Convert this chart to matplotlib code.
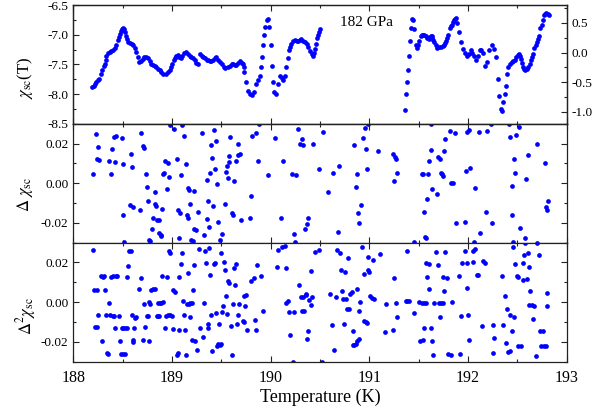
import matplotlib
matplotlib.use("Agg")
import matplotlib.pyplot as plt
from matplotlib.ticker import MultipleLocator, AutoMinorLocator, FormatStrFormatter

plt.rcParams['font.family'] = ['Liberation Serif', 'DejaVu Serif']
plt.rcParams['mathtext.fontset'] = 'stix'
plt.rcParams['axes.unicode_minus'] = False

# ---- top panel: chi_sc(T), left segment (left axis) ----
T_left = [188.19, 188.205, 188.22, 188.235, 188.25, 188.265, 188.28, 188.295, 188.31, 188.32,
          188.328, 188.335, 188.35, 188.37, 188.385, 188.40, 188.42, 188.435, 188.45, 188.46,
          188.47, 188.48, 188.49, 188.50, 188.51, 188.52, 188.53, 188.54, 188.555, 188.57,
          188.59, 188.61, 188.625, 188.64, 188.655, 188.67, 188.69, 188.705, 188.72, 188.74,
          188.76, 188.775, 188.79, 188.81, 188.825, 188.84, 188.86, 188.875, 188.89, 188.91,
          188.935, 188.96, 188.975, 188.99, 189.005, 189.02, 189.03, 189.045, 189.06, 189.075,
          189.09, 189.105, 189.12, 189.14, 189.16, 189.18, 189.195, 189.21, 189.23, 189.245,
          189.26, 189.28, 189.30, 189.315, 189.33, 189.35, 189.37, 189.385, 189.40, 189.42,
          189.435, 189.45, 189.47, 189.49, 189.51, 189.525, 189.54, 189.565, 189.59, 189.605,
          189.62, 189.635, 189.65, 189.67, 189.69, 189.705, 189.72, 189.725, 189.73, 189.75,
          189.77, 189.79, 189.81, 189.83, 189.85, 189.87, 189.89, 189.90, 189.91, 189.925,
          189.935, 189.94, 189.96, 189.975, 189.985, 190.00, 190.01, 190.02, 190.03, 190.05,
          190.07, 190.095, 190.11, 190.13, 190.15, 190.16, 190.18, 190.19, 190.20, 190.21,
          190.23, 190.25, 190.265, 190.28, 190.295, 190.31, 190.33, 190.35, 190.365, 190.38,
          190.40, 190.415, 190.43, 190.44, 190.45, 190.458, 190.465, 190.48, 190.49, 190.50]
chi_left = [-7.885, -7.86, -7.83, -7.80, -7.77, -7.74, -7.66, -7.60, -7.53, -7.49,
            -7.42, -7.35, -7.31, -7.29, -7.27, -7.25, -7.22, -7.17, -7.09, -7.04,
            -6.99, -6.94, -6.91, -6.88, -6.90, -6.95, -7.02, -7.07, -7.12, -7.14,
            -7.15, -7.17, -7.22, -7.29, -7.38, -7.46, -7.45, -7.41, -7.38, -7.38,
            -7.40, -7.45, -7.49, -7.51, -7.53, -7.545, -7.57, -7.60, -7.63, -7.66,
            -7.66, -7.63, -7.60, -7.545, -7.49, -7.43, -7.40, -7.36, -7.34, -7.37,
            -7.39, -7.35, -7.31, -7.29, -7.32, -7.35, -7.37, -7.40, -7.43, -7.47,
            -7.50, -7.33, -7.35, -7.38, -7.40, -7.42, -7.43, -7.44, -7.45, -7.42,
            -7.39, -7.375, -7.42, -7.46, -7.50, -7.54, -7.56, -7.54, -7.52, -7.50,
            -7.50, -7.51, -7.51, -7.48, -7.45, -7.47, -7.49, -7.55, -7.63, -7.80,
            -7.94, -8.00, -8.01, -7.96, -7.83, -7.77, -7.69, -7.545, -7.375, -7.18,
            -7.01, -6.87, -6.75, -6.73, -6.87, -7.17, -7.52, -7.79, -7.96, -7.99,
            -7.83, -7.69, -7.73, -7.77, -7.69, -7.545, -7.40, -7.26, -7.20, -7.15,
            -7.11, -7.09, -7.10, -7.11, -7.09, -7.08, -7.10, -7.12, -7.16, -7.21,
            -7.27, -7.32, -7.36, -7.30, -7.235, -7.15, -7.06, -7.01, -6.96, -6.90]

# ---- top panel: right segment (right axis) ----
T_right = [191.36, 191.37, 191.38, 191.39, 191.40, 191.41, 191.42, 191.43, 191.44, 191.45,
           191.47, 191.48, 191.495, 191.505, 191.52, 191.53, 191.54, 191.555, 191.57, 191.585,
           191.60, 191.61, 191.62, 191.63, 191.64, 191.65, 191.66, 191.675, 191.69, 191.71,
           191.73, 191.745, 191.755, 191.77, 191.78, 191.79, 191.80, 191.815, 191.83, 191.84,
           191.85, 191.86, 191.87, 191.88, 191.89, 191.91, 191.93, 191.95, 191.97, 191.99,
           192.01, 192.03, 192.045, 192.06, 192.08, 192.10, 192.12, 192.135, 192.15, 192.17,
           192.19, 192.215, 192.24, 192.26, 192.28, 192.30, 192.31, 192.33, 192.34, 192.35,
           192.37, 192.38, 192.40, 192.41, 192.43, 192.445, 192.46, 192.475, 192.49, 192.505,
           192.52, 192.53, 192.54, 192.55, 192.56, 192.57, 192.58, 192.595, 192.61, 192.625,
           192.64, 192.65, 192.66, 192.67, 192.685, 192.70, 192.71, 192.72, 192.73, 192.745,
           192.76, 192.77, 192.78, 192.795, 192.81, 192.82]
chi_right = [-0.963, -0.70, -0.50, -0.29, -0.06, 0.19, 0.405, 0.56, 0.545, 0.39,
             0.13, 0.08, 0.13, 0.19, 0.27, 0.29, 0.30, 0.29, 0.27, 0.25,
             0.235, 0.26, 0.28, 0.27, 0.25, 0.21, 0.17, 0.12, 0.08, 0.085,
             0.09, 0.11, 0.133, 0.16, 0.19, 0.24, 0.29, 0.405, 0.44, 0.47,
             0.51, 0.545, 0.56, 0.575, 0.49, 0.35, 0.18, 0.065, 0.0, -0.05,
             -0.03, 0.04, 0.0, -0.05, -0.13, -0.05, 0.05, 0.04, 0.0, -0.22,
             -0.16, 0.04, 0.12, 0.06, -0.075, -0.44, -0.725, -0.95, -0.99, -0.84,
             -0.70, -0.555, -0.36, -0.245, -0.19, -0.16, -0.14, -0.12, -0.075, -0.04,
             -0.02, -0.06, -0.11, -0.18, -0.245, -0.28, -0.30, -0.28, -0.245, -0.19,
             -0.13, -0.07, -0.02, 0.07, 0.12, 0.18, 0.23, 0.28, 0.405, 0.47,
             0.545, 0.64, 0.655, 0.66, 0.645, 0.63]

# ---- middle panel: first difference ----
d1 = [(188.203, 0.0049), (188.23, 0.0247), (188.243, 0.0120), (188.25, 0.0181), (188.263, 0.0117),
      (188.365, 0.0112), (188.382, 0.0046), (188.392, 0.0174), (188.41, 0.0235), (188.426, 0.0106),
      (188.43, 0.0238), (188.49, 0.0226), (188.50, 0.0096), (188.507, -0.0162), (188.517, -0.0297),
      (188.574, -0.0108), (188.584, 0.0150), (188.595, 0.0083), (188.608, -0.0120), (188.68, -0.0133),
      (188.69, 0.0255), (188.71, 0.0188), (188.72, 0.0177), (188.733, 0.0049), (188.743, -0.0019),
      (188.757, -0.0090), (188.77, -0.0286), (188.78, -0.0292), (188.797, -0.0231), (188.81, -0.0174),
      (188.824, -0.0106), (188.828, -0.0044), (188.84, -0.0115), (188.85, -0.0184), (188.865, -0.0186),
      (188.87, -0.0252), (188.885, -0.0260), (188.89, -0.0264), (188.90, -0.0130), (188.91, 0.0049),
      (188.92, 0.0052), (188.93, 0.0111), (188.946, -0.0027), (188.956, 0.0100), (188.966, 0.0032),
      (188.976, 0.0294), (189.017, 0.0275), (189.05, 0.0122), (189.06, -0.0137), (189.07, -0.0277),
      (189.08, -0.0150), (189.09, 0.0041), (189.10, 0.0294), (189.115, 0.0302), (189.125, 0.0238),
      (189.14, 0.0098), (189.15, -0.0162), (189.16, -0.0024), (189.165, -0.0176), (189.175, -0.0032),
      (189.186, -0.0103), (189.196, -0.0286), (189.21, -0.0292), (189.223, -0.0231), (189.226, -0.0040),
      (189.24, -0.0235), (189.264, -0.0147), (189.30, 0.0252), (189.32, -0.0260), (189.35, -0.0182),
      (189.355, 0.0017), (189.37, -0.0091), (189.375, -0.0221), (189.385, 0.0052), (189.40, 0.0191),
      (189.41, 0.0130), (189.42, -0.0113), (189.43, 0.0269), (189.44, 0.0074), (189.45, 0.0213),
      (189.46, -0.0002), (189.47, -0.0198), (189.49, -0.0289), (189.51, -0.0255), (189.54, -0.0106),
      (189.547, 0.0056), (189.557, 0.0086), (189.567, 0.0027), (189.575, 0.0106), (189.58, 0.0137),
      (189.59, 0.0232), (189.61, -0.0150), (189.62, -0.0159), (189.63, 0.0010), (189.645, 0.0113),
      (189.665, 0.0196), (189.67, 0.0142), (189.69, 0.0147), (189.70, -0.0188), (189.79, -0.0176),
      (189.80, -0.0066), (189.81, 0.0238), (189.855, 0.0255), (189.87, 0.0110), (189.88, 0.0300),
      (189.976, 0.0041), (190.047, 0.0226), (190.10, -0.0176), (190.13, 0.0110), (190.22, 0.0046),
      (190.233, -0.0255), (190.246, -0.0297), (190.257, 0.0040), (190.28, 0.0275), (190.30, 0.0198),
      (190.32, 0.0223), (190.33, 0.0194), (190.35, -0.0230), (190.365, -0.0208), (190.375, -0.0174),
      (190.43, 0.0196), (190.49, 0.0074), (190.527, 0.0258), (190.577, -0.0044), (190.631, 0.0052),
      (190.685, -0.0245), (190.696, 0.0089), (190.848, 0.0194), (190.86, -0.0019), (190.875, 0.0047),
      (190.888, -0.0152), (190.895, -0.0201), (190.92, -0.0108), (190.94, 0.0229), (190.956, 0.0277),
      (190.966, 0.0175), (190.98, 0.0074), (190.99, 0.0300), (191.084, 0.0162), (191.236, 0.0149),
      (191.25, 0.0010), (191.26, 0.0132), (191.27, 0.0123), (191.28, 0.0054), (191.45, -0.0295),
      (191.53, 0.0047), (191.547, 0.0047), (191.554, -0.0143), (191.564, -0.0273), (191.574, -0.0278),
      (191.584, -0.0082), (191.598, 0.0046), (191.604, 0.0110), (191.62, 0.0300), (191.628, 0.0170),
      (191.638, -0.0029), (191.69, -0.0056), (191.70, 0.0132), (191.716, 0.0123), (191.723, 0.0052),
      (191.74, 0.0047), (191.75, 0.0039), (191.753, 0.0165), (191.767, 0.0221), (191.817, 0.0263),
      (191.83, 0.0002), (191.845, 0.0002), (191.87, 0.0253), (191.88, -0.0202), (191.966, -0.0194),
      (191.976, 0.0064), (191.986, 0.0258), (192.006, 0.0267), (192.02, 0.0078), (192.06, -0.0296),
      (192.07, -0.0025), (192.115, 0.0257), (192.125, -0.0251), (192.18, -0.0145), (192.19, 0.0262),
      (192.23, 0.0300), (192.243, -0.0202), (192.42, 0.0297), (192.43, 0.0235), (192.442, -0.0013),
      (192.45, -0.0159), (192.46, -0.0298), (192.466, 0.0123), (192.476, 0.0054), (192.486, 0.0246),
      (192.516, 0.0283), (192.527, -0.0226), (192.58, -0.0275), (192.59, 0.0022), (192.604, 0.0142),
      (192.696, 0.0197), (192.70, -0.0304), (192.78, 0.0101), (192.79, -0.0118), (192.80, -0.0137),
      (192.81, -0.0090)]
T_d1 = [p[0] for p in d1]
v_d1 = [p[1] for p in d1]

# ---- bottom panel: second difference ----
d2 = [(188.203, 0.0264), (188.21, 0.0061), (188.22, -0.0128), (188.236, 0.0061), (188.236, -0.0125),
      (188.253, -0.0066), (188.277, 0.0132), (188.29, -0.0196), (188.297, 0.0128), (188.31, 0.0134),
      (188.318, 0.0061), (188.328, -0.0066), (188.338, -0.0257), (188.355, -0.0264), (188.36, -0.0003),
      (188.37, -0.0066), (188.38, 0.0129), (188.40, -0.0068), (188.405, 0.0130), (188.412, -0.0068),
      (188.42, -0.0130), (188.43, 0.0130), (188.446, 0.0130), (188.466, -0.0069), (188.473, -0.0198),
      (188.48, -0.0260), (188.49, -0.0133), (188.50, -0.0260), (188.507, -0.0133), (188.52, 0.0310),
      (188.524, -0.0260), (188.524, -0.0133), (188.54, -0.0133), (188.547, 0.0129), (188.557, 0.0184),
      (188.567, 0.0259), (188.58, 0.0257), (188.59, -0.0066), (188.60, -0.0203), (188.608, -0.0193),
      (188.62, -0.0130), (188.63, -0.0078), (188.64, -0.0074), (188.666, 0.0064), (188.69, 0.0122),
      (188.71, -0.0189), (188.716, -0.0012), (188.73, -0.0128), (188.743, -0.0071), (188.753, -0.0071),
      (188.764, -0.0198), (188.77, 0.0000), (188.78, -0.0012), (188.79, 0.0061), (188.79, 0.0310),
      (188.81, 0.0064), (188.824, 0.0066), (188.845, -0.0069), (188.858, -0.0071), (188.86, -0.0007),
      (188.868, -0.0071), (188.88, -0.0005), (188.89, -0.0004), (188.90, 0.0134), (188.91, 0.0000),
      (188.93, -0.0130), (188.94, -0.0069), (188.953, 0.0125), (188.956, -0.0066), (188.97, 0.0259),
      (188.98, 0.0250), (188.98, -0.0066), (188.997, -0.0068), (189.007, 0.0061), (189.01, -0.0137),
      (189.03, 0.0052), (189.05, -0.0265), (189.057, -0.0257), (189.07, -0.0142), (189.074, 0.0125),
      (189.088, 0.0191), (189.10, 0.0250), (189.108, 0.0005), (189.12, -0.0063), (189.13, -0.0142),
      (189.14, -0.0265), (189.15, -0.0012), (189.166, 0.0149), (189.17, -0.0010), (189.18, -0.0074),
      (189.186, -0.0007), (189.20, -0.0189), (189.206, -0.0007), (189.21, 0.0310), (189.213, 0.0061),
      (189.226, 0.0186), (189.236, -0.0198), (189.25, -0.0240), (189.277, 0.0270), (189.284, -0.0130),
      (189.318, -0.0176), (189.328, -0.0003), (189.334, 0.0260), (189.345, 0.0196), (189.36, -0.0130),
      (189.368, -0.0113), (189.378, 0.0272), (189.385, 0.0135), (189.40, -0.0064), (189.41, -0.0248),
      (189.426, 0.0191), (189.44, 0.0198), (189.443, -0.0057), (189.453, -0.0223), (189.466, -0.0210),
      (189.476, -0.0112), (189.486, -0.0215), (189.493, 0.0247), (189.50, -0.0210), (189.51, -0.0051),
      (189.51, 0.0310), (189.52, -0.0019), (189.53, 0.0201), (189.54, 0.0162), (189.547, 0.0030),
      (189.557, -0.0061), (189.57, 0.0106), (189.58, 0.0098), (189.595, -0.0120), (189.605, -0.0265),
      (189.615, -0.0012), (189.63, 0.0171), (189.64, 0.0085), (189.645, 0.0193), (189.655, -0.0113),
      (189.665, -0.0063), (189.676, -0.0012), (189.716, -0.0096), (189.726, -0.0101), (189.733, 0.0032),
      (189.743, -0.0019), (189.747, 0.0035), (189.76, -0.0142), (189.80, 0.0106), (189.828, 0.0123),
      (189.84, -0.0091), (189.85, -0.0139), (189.858, 0.0189), (189.90, 0.0132), (189.926, -0.0044),
      (190.06, 0.0176), (190.07, 0.0264), (190.11, 0.0276), (190.145, 0.0284), (190.155, 0.0174),
      (190.16, -0.0003), (190.18, 0.0007), (190.19, -0.0049), (190.196, -0.0167), (190.23, -0.0302),
      (190.236, -0.0049), (190.29, 0.0085), (190.307, 0.0024), (190.32, -0.0046), (190.33, 0.0027),
      (190.338, -0.0044), (190.355, 0.0039), (190.36, 0.0034), (190.366, -0.0186), (190.38, -0.0147),
      (190.39, 0.0010), (190.405, -0.0015), (190.41, 0.0157), (190.42, 0.0027), (190.45, 0.0255),
      (190.49, 0.0264), (190.517, -0.0302), (190.601, 0.0039), (190.618, -0.0115), (190.645, -0.0242),
      (190.658, 0.0025), (190.668, 0.0265), (190.70, 0.0248), (190.71, 0.0161), (190.72, 0.0056),
      (190.73, 0.0017), (190.743, -0.0113), (190.753, 0.0152), (190.763, 0.0017), (190.777, -0.0034),
      (190.787, 0.0223), (190.797, -0.0037), (190.804, 0.0042), (190.82, 0.0049), (190.83, -0.0215),
      (190.837, -0.0147), (190.848, -0.0215), (190.865, -0.0211), (190.87, 0.0064), (190.878, -0.0198),
      (190.892, -0.0047), (190.898, -0.0186), (190.91, 0.0000), (190.922, 0.0279), (190.942, 0.0144),
      (190.95, -0.0098), (190.966, -0.0103), (190.98, -0.0105), (190.983, 0.0228), (190.99, 0.0164),
      (191.00, 0.0152), (191.006, 0.0029), (191.023, 0.0020), (191.033, 0.0211), (191.047, 0.0014),
      (191.108, 0.0245), (191.158, -0.0152), (191.17, -0.0012), (191.243, -0.0139), (191.253, 0.0122),
      (191.267, -0.0005), (191.277, -0.0073), (191.37, 0.0005), (191.385, 0.0005), (191.385, 0.0259),
      (191.405, 0.0005), (191.456, -0.0054), (191.506, 0.0000), (191.513, -0.0194), (191.53, -0.0003),
      (191.547, -0.0189), (191.554, -0.0007), (191.557, -0.0130), (191.57, -0.0005), (191.574, 0.0198),
      (191.588, 0.0127), (191.60, 0.0064), (191.604, 0.0191), (191.62, -0.0130), (191.63, -0.0199),
      (191.648, -0.0265), (191.66, -0.0005), (191.672, 0.0253), (191.692, 0.0186), (191.71, -0.0005),
      (191.716, -0.0073), (191.726, -0.0005), (191.743, -0.0005), (191.75, 0.0127), (191.76, 0.0056),
      (191.77, 0.0253), (191.79, 0.0123), (191.80, -0.0262), (191.824, -0.0265), (191.837, 0.0000),
      (191.905, 0.0132), (191.918, -0.0262), (191.93, -0.0069), (191.94, 0.0198), (191.973, 0.0259),
      (191.986, 0.0198), (191.993, 0.0071), (192.003, -0.0064), (192.013, -0.0191), (192.047, 0.0201),
      (192.054, 0.0259), (192.07, 0.0270), (192.088, 0.0137), (192.104, 0.0135), (192.14, -0.0120),
      (192.155, 0.0208), (192.172, 0.0198), (192.25, -0.0259), (192.257, -0.0117), (192.267, -0.0181),
      (192.348, 0.0130), (192.357, -0.0118), (192.375, 0.0029), (192.38, -0.0208), (192.39, -0.0037),
      (192.408, -0.0254), (192.425, -0.0063), (192.43, -0.0245), (192.446, -0.0144), (192.46, 0.0279),
      (192.47, -0.0073), (192.476, 0.0191), (192.493, 0.0130), (192.507, 0.0127), (192.51, -0.0220),
      (192.533, -0.0220), (192.554, 0.0113), (192.56, 0.0198), (192.57, 0.0237), (192.58, 0.0296),
      (192.594, 0.0118), (192.604, 0.0250), (192.615, -0.0014), (192.62, 0.0178), (192.628, 0.0054),
      (192.645, -0.0017), (192.655, -0.0084), (192.672, -0.0022), (192.689, -0.0274), (192.70, 0.0300),
      (192.72, 0.0237), (192.73, -0.0147), (192.74, -0.0220), (192.763, -0.0147), (192.773, -0.0220),
      (192.79, -0.0220), (192.797, -0.0022), (192.804, 0.0047)]
T_d2 = [p[0] for p in d2]
v_d2 = [p[1] for p in d2]

x_ticks = [188, 189, 190, 191, 192, 193]
label_text = "182 GPa"

blue = '#0000FF'
ms = 3.4

fig = plt.figure(figsize=(6.13, 4.13), dpi=100)
left, right = 73.3 / 613, 566.7 / 613
top, bottom = 1 - 5 / 413, 1 - 361.5 / 413
gs = fig.add_gridspec(3, 1, left=left, right=right, top=top, bottom=bottom, hspace=0)
ax1 = fig.add_subplot(gs[0])
ax2 = fig.add_subplot(gs[1], sharex=ax1)
ax3 = fig.add_subplot(gs[2], sharex=ax1)
ax1r = ax1.twinx()

ax1.plot(T_left, chi_left, 'o', color=blue, ms=ms, mew=0)
ax1r.plot(T_right, chi_right, 'o', color=blue, ms=ms, mew=0)
ax2.plot(T_d1, v_d1, 'o', color=blue, ms=ms, mew=0)
ax3.plot(T_d2, v_d2, 'o', color=blue, ms=ms, mew=0)

ax1.set_xlim(188, 193)
ax1.set_ylim(-8.5, -6.5)
ax1r.set_ylim(-1.2, 0.8)
ax2.set_ylim(-0.03, 0.03)
ax3.set_ylim(-0.03, 0.03)

ax1.yaxis.set_major_locator(MultipleLocator(0.5))
ax1.yaxis.set_minor_locator(AutoMinorLocator(2))
ax1r.yaxis.set_major_locator(MultipleLocator(0.5))
ax1r.yaxis.set_minor_locator(AutoMinorLocator(2))
for ax in (ax2, ax3):
    ax.set_yticks([-0.02, 0.0, 0.02])
    ax.yaxis.set_minor_locator(MultipleLocator(0.01))
    ax.yaxis.set_major_formatter(FormatStrFormatter('%.2f'))
ax1r.yaxis.set_major_formatter(FormatStrFormatter('%.1f'))
ax1.yaxis.set_major_formatter(FormatStrFormatter('%.1f'))

ax3.set_xticks(x_ticks)
ax3.xaxis.set_minor_locator(MultipleLocator(0.5))

for ax in (ax1, ax2, ax3, ax1r):
    for s in ax.spines.values():
        s.set_linewidth(0.9)
        s.set_color('#222222')
for ax in (ax1, ax2, ax3):
    ax.tick_params(which='both', direction='in', top=True, right=(ax is not ax1),
                   colors='#222222', labelcolor='black')
    ax.tick_params(which='major', length=4, width=0.8, labelsize=9.5)
    ax.tick_params(which='minor', length=2, width=0.8)
ax1r.tick_params(which='both', direction='in', colors='#222222', labelcolor='black')
ax1r.tick_params(which='major', length=4, width=0.8, labelsize=9.5)
ax1r.tick_params(which='minor', length=2, width=0.8)
ax1.tick_params(axis='x', labelbottom=False)
ax2.tick_params(axis='x', labelbottom=False)
ax3.tick_params(axis='x', labelsize=11.5, pad=6)

ax1.text(190.7, -6.8, label_text, fontsize=11, va='center', ha='left')

fig.text(25 / 613, 1 - 78 / 413, r'$\chi_{\rm sc}$(T)', rotation=90, fontsize=12,
         ha='center', va='center')
fig.text(25 / 613, 1 - 195 / 413, r'$\Delta\ \chi_{\rm sc}$', rotation=90, fontsize=12,
         ha='center', va='center')
fig.text(26 / 613, 1 - 316 / 413, r'$\Delta^2\chi_{\rm sc}$', rotation=90, fontsize=12,
         ha='center', va='center')
fig.text((73.3 + 566.7) / 2 / 613, 1 - 397 / 413, 'Temperature (K)', fontsize=13,
         ha='center', va='center')

fig.savefig('out.png', dpi=100)
